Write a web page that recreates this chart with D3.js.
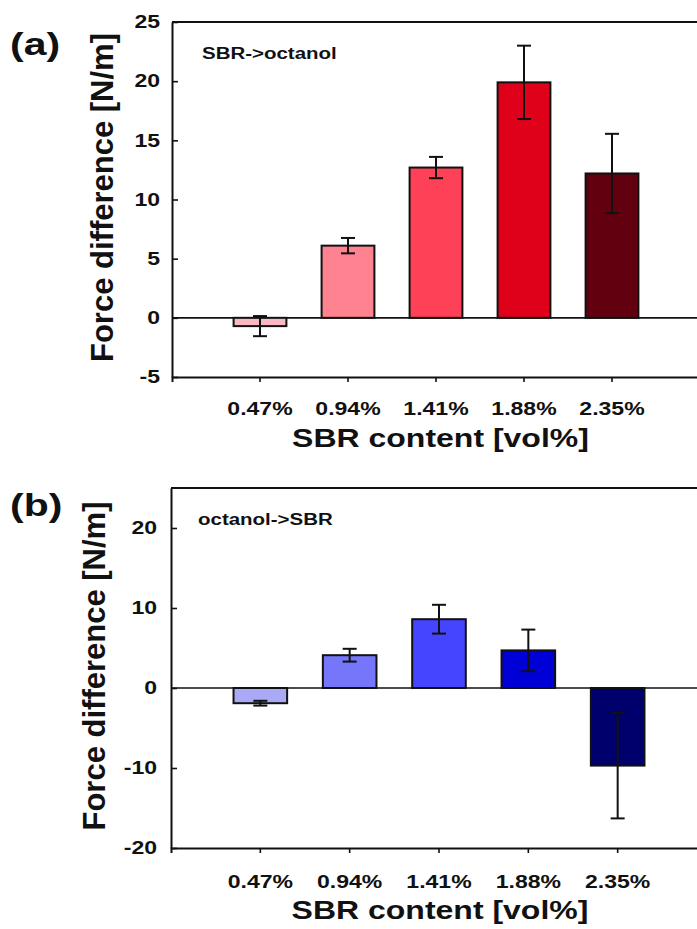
<!DOCTYPE html>
<html>
<head>
<meta charset="utf-8">
<script src="https://cdn.jsdelivr.net/npm/d3@7"></script>
<style>
  html, body { margin: 0; padding: 0; background: #fff; }
  svg { display: block; }
  text { font-family: "Liberation Sans", Arial, sans-serif; font-weight: bold; fill: #111; }
</style>
</head>
<body>
<svg id="fig" width="697" height="929"></svg>
<script>
// SBR content categories shared by both panels
const categories = ["0.47%", "0.94%", "1.41%", "1.88%", "2.35%"];

// (a) SBR -> octanol: force difference [N/m] and error half-widths
const sbrToOctanol = [-0.7, 6.1, 12.7, 19.9, 12.2];
const sbrToOctanolErr = [0.85, 0.65, 0.9, 3.1, 3.35];

// (b) octanol -> SBR
const octanolToSbr = [-1.9, 4.1, 8.6, 4.7, -9.7];
const octanolToSbrErr = [0.3, 0.8, 1.8, 2.6, 6.6];

// y-axis tick values
const ticksA = [-5, 0, 5, 10, 15, 20, 25];
const ticksB = [-20, -10, 0, 10, 20];

// bar fills
const redShades = ["#f7b7c3", "#ff8290", "#ff4157", "#df0019", "#620010"];
const blueShades = ["#a9a9f6", "#7676fa", "#4545ff", "#0000d6", "#00006c"];

const SX = 1.28; // horizontal stretch applied to the text glyphs
const svg = d3.select("#fig");

function drawPanel(p) {
  const g = svg.append("g");

  const x = d3.scaleBand()
    .domain(categories)
    .range([p.left, p.right])
    .paddingInner(0.4)
    .paddingOuter(0.7);

  const y = d3.scaleLinear()
    .domain(p.domain)
    .range([p.bottom, p.top]);

  // top frame line
  g.append("line")
    .attr("x1", p.left).attr("x2", p.right)
    .attr("y1", p.top).attr("y2", p.top)
    .attr("stroke", "#111").attr("stroke-width", 2);

  // zero reference line
  g.append("line")
    .attr("x1", p.left).attr("x2", p.right)
    .attr("y1", y(0)).attr("y2", y(0))
    .attr("stroke", "#111").attr("stroke-width", 1.6);

  // bars
  g.selectAll("rect.bar")
    .data(p.values)
    .join("rect")
    .attr("class", "bar")
    .attr("x", (d, i) => x(categories[i]))
    .attr("width", x.bandwidth())
    .attr("y", d => y(Math.max(0, d)))
    .attr("height", d => Math.abs(y(d) - y(0)))
    .attr("fill", (d, i) => p.colors[i])
    .attr("stroke", "#111")
    .attr("stroke-width", 2);

  // error bars
  const cap = 7;
  const eb = g.selectAll("g.err")
    .data(p.values.map((v, i) => ({ v, e: p.errors[i], c: categories[i] })))
    .join("g")
    .attr("class", "err")
    .attr("stroke", "#111")
    .attr("stroke-width", 2);
  const cx = d => x(d.c) + x.bandwidth() / 2;
  eb.append("line")
    .attr("x1", cx).attr("x2", cx)
    .attr("y1", d => y(d.v - d.e))
    .attr("y2", d => y(d.v + d.e));
  eb.append("line")
    .attr("x1", d => cx(d) - cap).attr("x2", d => cx(d) + cap)
    .attr("y1", d => y(d.v + d.e)).attr("y2", d => y(d.v + d.e));
  eb.append("line")
    .attr("x1", d => cx(d) - cap).attr("x2", d => cx(d) + cap)
    .attr("y1", d => y(d.v - d.e)).attr("y2", d => y(d.v - d.e));

  // y axis, ticks pointing into the plot, plain hyphen for negatives
  const yAxis = g.append("g")
    .attr("transform", `translate(${p.left},0)`)
    .call(d3.axisLeft(y).tickValues(p.ticks).tickFormat(d => String(d))
      .tickSizeInner(-6).tickSizeOuter(0).tickPadding(0));
  yAxis.select(".domain").attr("stroke", "#111").attr("stroke-width", 2);
  yAxis.selectAll(".tick line").attr("stroke", "#111").attr("stroke-width", 1.6);
  yAxis.selectAll(".tick text")
    .attr("x", 0)
    .attr("transform", `translate(${-p.yPad},0) scale(${SX},1)`)
    .style("font-size", "18px")
    .attr("fill", "#111");

  // x axis, ticks pointing outward
  const xAxis = g.append("g")
    .attr("transform", `translate(0,${p.bottom})`)
    .call(d3.axisBottom(x).tickSizeInner(5).tickSizeOuter(5).tickPadding(p.xPad));
  xAxis.select(".domain").attr("stroke", "#111").attr("stroke-width", 2);
  xAxis.selectAll(".tick line").attr("stroke", "#111").attr("stroke-width", 1.6);
  xAxis.selectAll(".tick text")
    .attr("transform", `scale(${SX},1)`)
    .style("font-size", "18px")
    .attr("fill", "#111");

  // x axis title
  g.append("text")
    .attr("transform", `translate(${(p.left + 697) / 2 + p.xTitleShift},${p.xTitleY}) scale(${SX},1)`)
    .attr("text-anchor", "middle")
    .style("font-size", "25px")
    .text("SBR content [vol%]");

  // y axis title
  g.append("text")
    .attr("transform", `translate(${p.yTitleX},${(p.top + p.bottom) / 2 - 2}) rotate(-90)`)
    .attr("text-anchor", "middle")
    .style("font-size", "31px")
    .text("Force difference [N/m]");

  // panel label
  g.append("text")
    .attr("transform", `translate(10,${p.labelY}) scale(${SX},1)`)
    .style("font-size", "32px")
    .text(p.label);

  // direction annotation
  g.append("text")
    .attr("transform", `translate(${p.noteX},${p.noteY}) scale(${SX},1)`)
    .style("font-size", "16px")
    .text(p.note);
}

drawPanel({
  left: 172, right: 700, top: 22, bottom: 377,
  domain: [-5, 25], ticks: ticksA,
  values: sbrToOctanol, errors: sbrToOctanolErr, colors: redShades,
  yPad: 12, xPad: 20, xTitleY: 447, xTitleShift: 6, yTitleX: 113,
  label: "(a)", labelY: 55, note: "SBR->octanol", noteX: 202, noteY: 59
});

drawPanel({
  left: 171, right: 707, top: 488, bottom: 848,
  domain: [-20, 25], ticks: ticksB,
  values: octanolToSbr, errors: octanolToSbrErr, colors: blueShades,
  yPad: 14, xPad: 22, xTitleY: 919, xTitleShift: 6, yTitleX: 105,
  label: "(b)", labelY: 516, note: "octanol->SBR", noteX: 198, noteY: 525
});
</script>
</body>
</html>
